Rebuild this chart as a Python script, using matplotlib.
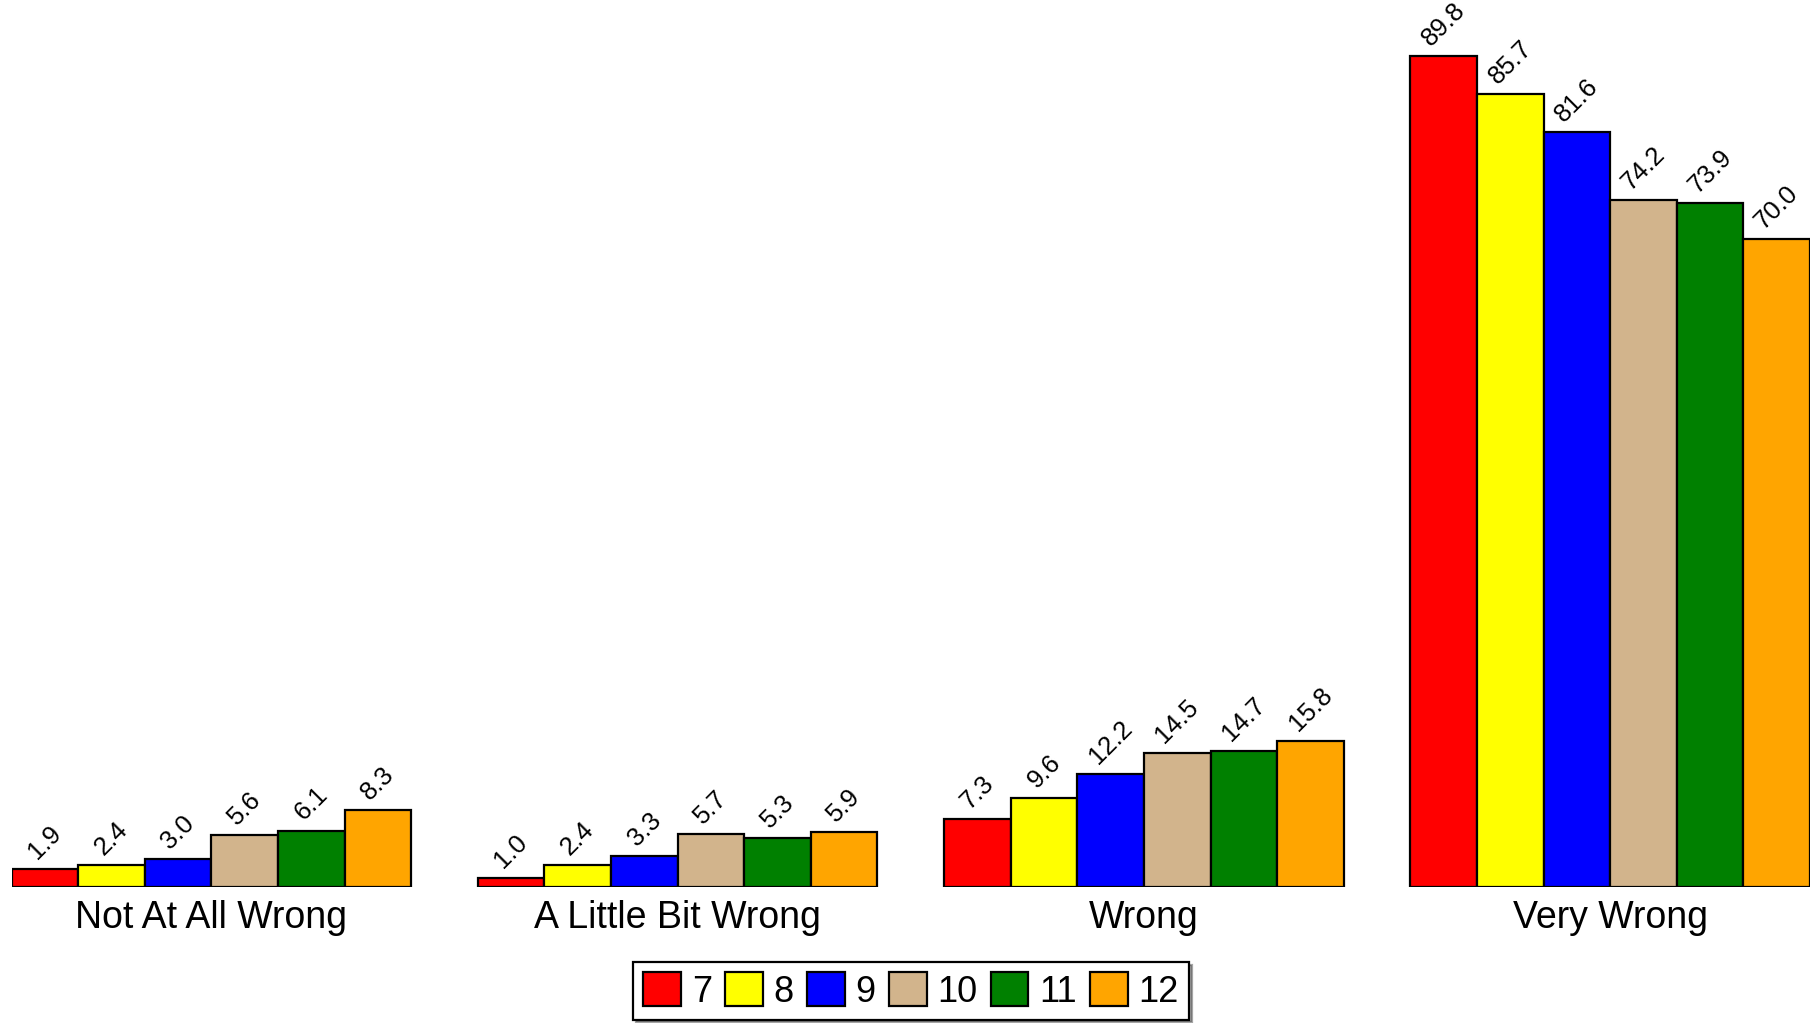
import matplotlib
matplotlib.use("Agg")
import matplotlib.pyplot as plt
import numpy as np

plt.rcParams['font.family'] = ['Liberation Sans', 'DejaVu Sans']

categories = ["Not At All Wrong", "A Little Bit Wrong", "Wrong", "Very Wrong"]
grades = ["7", "8", "9", "10", "11", "12"]
values = {
    "7":  [1.9, 1.0, 7.3, 89.8],
    "8":  [2.4, 2.4, 9.6, 85.7],
    "9":  [3.0, 3.3, 12.2, 81.6],
    "10": [5.6, 5.7, 14.5, 74.2],
    "11": [6.1, 5.3, 14.7, 73.9],
    "12": [8.3, 5.9, 15.8, 70.0],
}
colors = ["#FF0000", "#FFFF00", "#0000FF", "#D2B48C", "#008000", "#FFA500"]

W, H = 1811, 1023
fig = plt.figure(figsize=(W / 100, H / 100), dpi=100)
ax = fig.add_axes([11.5 / W, 136 / H, (1810 - 11.5) / W, (H - 136) / H])

n = len(grades)
group_step = n + 1
x = np.arange(len(categories)) * group_step
for i, g in enumerate(grades):
    pos = x + i + 0.5
    ax.bar(pos, values[g], width=1.0, color=colors[i], edgecolor="black",
           linewidth=1.6, label=g, zorder=2)
    for xp, v in zip(pos, values[g]):
        ax.annotate(f"{v:.1f}", (xp, v), xytext=(0, 4), textcoords="offset points",
                    ha="center", va="bottom", rotation=45, fontsize=18.5)

ax.set_xlim(0, x[-1] + n)
ax.set_ylim(0, 887 / 9.254)
ax.set_xticks(x + n / 2)
ax.set_xticklabels(categories, fontsize=27)
ax.tick_params(axis="x", length=0, pad=9)
ax.set_yticks([])
for s in ax.spines.values():
    s.set_visible(False)

leg = fig.legend(loc="center", bbox_to_anchor=(911 / W, 1 - 991 / H), ncol=6,
                 fontsize=26, frameon=True, shadow=True, fancybox=False,
                 handlelength=1.05, handleheight=1.05, handletextpad=0.3,
                 columnspacing=0.36, borderpad=0.28, edgecolor="black")
leg.get_frame().set_linewidth(1.6)
for p in leg.get_patches():
    p.set_linewidth(1.6)

fig.savefig("out.png", dpi=100)
